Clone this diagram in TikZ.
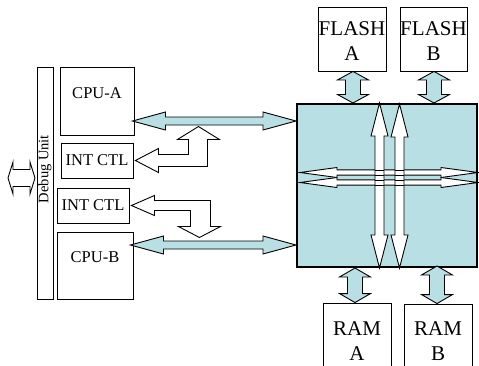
\documentclass[tikz,border=0pt]{standalone}
\usepackage{fontspec}
\setmainfont{Liberation Serif}
\usetikzlibrary{calc}
\definecolor{busblue}{RGB}{184,223,227}
\tikzset{
  box/.style={draw=black, line width=0.9pt, fill=white, inner sep=0pt},
  txtA/.style={font=\fontsize{16.5}{19}\selectfont, inner sep=0pt},
  txtB/.style={font=\fontsize{21}{25}\selectfont, inner sep=0pt, align=center},
  bluearr/.style={draw=black, line width=0.9pt, fill=busblue, line join=miter},
  whitearr/.style={draw=black, line width=0.9pt, fill=white, line join=miter},
}
% #1 style, #2 start, #3 end, #4 half shaft, #5 half head, #6 head length
\newcommand\dblarrow[6]{%
  \path (#2) coordinate (da-s) (#3) coordinate (da-e);
  \path ($(da-s)!#6!(da-e)$) coordinate (da-hs) ($(da-e)!#6!(da-s)$) coordinate (da-he);
  \draw[#1] (da-s) -- ($(da-hs)!#5!90:(da-e)$) -- ($(da-hs)!#4!90:(da-e)$)
    -- ($(da-he)!#4!-90:(da-s)$) -- ($(da-he)!#5!-90:(da-s)$) -- (da-e)
    -- ($(da-he)!#5!90:(da-s)$) -- ($(da-he)!#4!90:(da-s)$)
    -- ($(da-hs)!#4!-90:(da-e)$) -- ($(da-hs)!#5!-90:(da-e)$) -- cycle;}
\begin{document}
\begin{tikzpicture}[x=1pt, y=-1pt]
\clip (0,0) rectangle (479,365);
\useasboundingbox (0,0) rectangle (479,365);
\fill[white] (0,0) rectangle (479,365);

% boxes
\node[box, minimum width=16pt, minimum height=232pt] (dbg) at (45,183) {};
\node[txtA, rotate=90, font=\fontsize{14.5}{17}\selectfont] (dbgt) at (45,169) {Debug Unit};
\node[box, minimum width=74pt, minimum height=68pt] (cpua) at (97,101) {};
\node[txtA] (cpuat) at (97,93) {CPU-A};
\node[box, minimum width=72pt, minimum height=35pt] (inta) at (97,160.5) {};
\node[txtA] (intat) at (inta) {INT CTL};
\node[box, minimum width=72pt, minimum height=35pt] (intb) at (93,205.5) {};
\node[txtA] (intbt) at (intb) {INT CTL};
\node[box, minimum width=76pt, minimum height=67pt] (cpub) at (95,265.5) {};
\node[txtA] (cpubt) at (95,257) {CPU-B};

\node[box, minimum width=68pt, minimum height=64pt] (fla) at (352,39) {};
\node[txtB] (flat) at (352,41) {FLASH\\A};
\node[box, minimum width=67pt, minimum height=64pt] (flb) at (433.5,39) {};
\node[txtB] (flbt) at (433.5,41) {FLASH\\B};
\node[box, minimum width=68pt, minimum height=76pt] (rama) at (357,341) {};
\node[txtB] (ramat) at (357,341) {RAM\\A};
\node[box, minimum width=68pt, minimum height=76pt] (ramb) at (438,342) {};
\node[txtB] (rambt) at (438,341) {RAM\\B};

\node[draw=black, line width=2pt, fill=busblue, minimum width=180pt, minimum height=163pt, inner sep=0pt] (bus) at (387,185.5) {};

% left debug arrow
\coordinate (dl) at (8,178);
\coordinate (dr) at (35,178);
\dblarrow{whitearr}{dl}{dr}{8.5pt}{16pt}{5pt}

% blue horizontal buses
\dblarrow{bluearr}{[xshift=-2pt,yshift=-20pt]cpua.east}{bus.west |- 0,121}{4pt}{9pt}{33pt}
\dblarrow{bluearr}{[xshift=-3pt,yshift=20.5pt]cpub.west -| cpub.east}{bus.west |- 0,245}{4pt}{9pt}{33pt}

% memory links
\dblarrow{bluearr}{fla.south -| 353,0}{bus.north -| 353,0}{7.5pt}{15.5pt}{8.5pt}
\dblarrow{bluearr}{flb.south -| 434,0}{bus.north -| 434,0}{7.5pt}{15.5pt}{8.5pt}
\dblarrow{bluearr}{bus.south -| 355,0}{rama.north -| 355,0}{7.5pt}{15.5pt}{9pt}
\dblarrow{bluearr}{[yshift=2pt]bus.south -| 437,0}{ramb.north -| 437,0}{7.5pt}{15.5pt}{9pt}

% internal white arrows
\dblarrow{whitearr}{300,172.5}{478,172.5}{2.6pt}{5pt}{37pt}
\dblarrow{whitearr}{300,182.5}{478,182.5}{2.6pt}{5pt}{37pt}
\dblarrow{whitearr}{bus.north -| 379.5,0}{bus.south -| 379.5,0}{4.5pt}{8.5pt}{33pt}
\dblarrow{whitearr}{[yshift=-1pt]bus.north -| 399.5,0}{bus.south -| 399.5,0}{4.5pt}{8.5pt}{33pt}
% horizontal shaft lines visible across vertical arrows
\foreach \yy in {170,175,180,185}{
  \draw[line width=0.9pt] (375,\yy) -- (384,\yy) (395,\yy) -- (404,\yy);
}

% interrupt L-arrows
\draw[whitearr] ([xshift=2pt]inta.east) -- ++(23,-12) -- ++(0,6) -- ++(30,0) -- ++(0,-15)
  -- ++(-11,0) -- ++(21,-13) -- ++(21,13) -- ++(-12,0) -- ++(0,27) -- ++(-49,0)
  -- ++(0,6) -- cycle;
\draw[whitearr] ([xshift=2pt]intb.east) -- ++(23,-10) -- ++(0,5) -- ++(56,0) -- ++(0,26)
  -- ++(10,0) -- ++(-21,11) -- ++(-21,-11) -- ++(12,0) -- ++(0,-16) -- ++(-36,0)
  -- ++(0,5) -- cycle;
\end{tikzpicture}
\end{document}
